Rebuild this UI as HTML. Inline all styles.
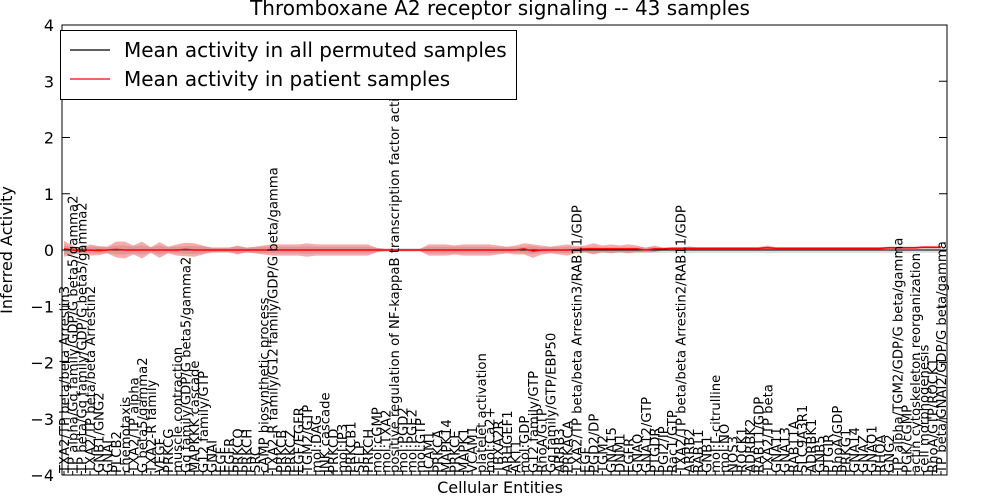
<!DOCTYPE html>
<html><head><meta charset="utf-8"><style>
body{margin:0;background:#fff;}
svg{display:block;font-family:"DejaVu Sans","Liberation Sans",sans-serif;}
</style></head><body>
<svg id="chart" width="1000" height="500" viewBox="0 0 1000 500" xmlns="http://www.w3.org/2000/svg">
<rect width="1000" height="500" fill="#fff"/>
<text x="500" y="15" text-anchor="middle" font-size="20">Thromboxane A2 receptor signaling -- 43 samples</text>
<text transform="translate(12,250) rotate(-90)" text-anchor="middle" font-size="16">Inferred Activity</text>
<text x="500" y="493" text-anchor="middle" font-size="16">Cellular Entities</text>
<g id="bands"></g><g id="lines"></g><g id="xlabels"></g><g id="yaxis"></g>
<rect x="62" y="25" width="885" height="450" fill="none" stroke="#000" stroke-width="1"/>
<g>
<rect x="60.5" y="30.5" width="456" height="69" fill="#fff" stroke="#000"/>
<line x1="70" y1="50" x2="110" y2="50" stroke="#000" stroke-width="1.2"/>
<text x="124" y="57" font-size="20">Mean activity in all permuted samples</text>
<line x1="70" y1="79" x2="110" y2="79" stroke="#f00" stroke-width="1.2"/>
<text x="124" y="86" font-size="20">Mean activity in patient samples</text>
</g>
</svg>
<script>
const categories = ["TXA2/TP beta/beta Arrestin3","TP alpha/Gq family/GDP/G beta5/gamma2","TP beta/Gq family/GDP/G beta5/gamma2","TXA2/TP beta/beta Arrestin2","GNB1/GNG2","GNAI","PLCB2","chemotaxis","TXA2/TP alpha","G beta5/gamma2","TXA2-R family","VEGF","PRKCG","muscle contraction","Gq family/GDP/G beta5/gamma2","MAPKKK cascade","G12 family/GTP","GNAI","EGF","EGFR","PRKCQ","PRKCH","SRC","cAMP biosynthetic process","TXA2-R family/G12 family/GDP/G beta/gamma","PRKCB","PRKCZ","EGF/EGFR","TGM2/GTP","mol:DAG","JNK cascade","PRKCD","mol:IP3","PRKCB1","SELP","PRKCH","mol:cGMP","mol:TXA2","positive regulation of NF-kappaB transcription factor activity","mol:PGD2","mol:PGE2","mol:GTP","ICAM1","PRKCA","MAPK14","PRKCE","MAPK1","VCAM1","platelet activation","mol:Ca2+","TBXA2R","ARHGEF1","AKT1","mol:GDP","G12 family/GTP","RhoA/GTP","Gq family/GTP/EBP50","ARRB3","PRKACA","TXA2/TP beta/beta Arrestin3/RAB11/GDP","EGF","PGD2/DP","TGM2","GNA15","DNM1","EGFR","GNAQ","GNA12/GTP","PTGDR","PGI2/IP","Rac1/GTP","TXA2/TP beta/beta Arrestin2/RAB11/GDP","ARRB2","RAB11","GNB1","mol:L-citrulline","mol:NO","NOS3","ROCK1","ADRBK2","RAB11/GDP","TXA2/TP beta","GNA11","GNA13","RAB11A","SLC9A3R1","ADRBK1","GNB5","PTGIR","RhoA/GDP","PRKG1","GNA14","GNAZ","GNAO1","RHOA","GNG2","TP alpha/TGM2/GDP/G beta/gamma","PGK/cGMP","actin cytoskeleton reorganization","cell morphogenesis","RhoA/GTP/ROCK1","TP beta/GNAI2/GDP/G beta/gamma"];
const patientMean = [0.02,0.0,-0.02,0.0,-0.01,0.0,0.01,0.0,0.0,0.0,0.0,0.0,0.0,0.0,0.01,0.0,0.0,0.0,0.0,0.0,0.0,0.0,0.0,0.0,0.0,0.0,0.0,0.0,0.0,0.0,0.0,0.0,0.0,0.0,0.0,0.0,0.0,0.0,0.0,0.0,0.0,0.0,0.0,0.0,0.0,0.0,0.0,0.0,0.0,0.0,0.0,0.0,0.0,0.02,-0.02,0.0,0.0,0.0,0.0,0.01,0.02,0.02,0.02,0.02,0.02,0.02,0.02,0.0,0.02,0.02,0.03,0.03,0.03,0.03,0.03,0.03,0.03,0.03,0.03,0.03,0.03,0.04,0.03,0.03,0.03,0.03,0.03,0.03,0.03,0.03,0.03,0.03,0.03,0.03,0.03,0.04,0.04,0.04,0.04,0.05,0.05,0.05];
const patientSpread = [0.14,0.08,0.04,0.1,0.08,0.06,0.14,0.15,0.08,0.15,0.05,0.14,0.06,0.1,0.12,0.12,0.08,0.04,0.04,0.04,0.08,0.04,0.06,0.08,0.1,0.1,0.1,0.1,0.12,0.1,0.1,0.1,0.1,0.1,0.1,0.1,0.04,0.02,0.02,0.02,0.02,0.02,0.1,0.1,0.1,0.08,0.1,0.1,0.1,0.1,0.08,0.06,0.08,0.1,0.12,0.08,0.06,0.08,0.1,0.06,0.06,0.1,0.06,0.08,0.06,0.08,0.06,0.04,0.06,0.02,0.02,0.02,0.03,0.02,0.02,0.02,0.02,0.02,0.02,0.02,0.02,0.04,0.02,0.02,0.02,0.02,0.02,0.02,0.02,0.02,0.02,0.02,0.02,0.02,0.02,0.02,0.02,0.02,0.02,0.02,0.02,0.02];
const permMean = [0,0,0,0,0,0,0,0,0,0,0,0,0,0,0,0,0,0,0,0,0,0,0,0,0,0,0,0,0,0,0,0,0,0,0,0,0,0,0,0,0,0,0,0,0,0,0,0,0,0,0,0,0,0,0,0,0,0,0,0,0,0,0,0,0,0,0,0,0,0,0,0,0,0,0,0,0,0,0,0,0,0,0,0,0,0,0,0,0,0,0,0,0,0,0,0,0,0,0,0,0,0];
const permSpread = [0.08,0.06,0.05,0.06,0.06,0.05,0.08,0.08,0.06,0.08,0.05,0.08,0.05,0.06,0.07,0.07,0.06,0.05,0.05,0.05,0.06,0.05,0.05,0.06,0.06,0.06,0.06,0.06,0.07,0.06,0.06,0.06,0.06,0.06,0.06,0.06,0.04,0.03,0.03,0.03,0.03,0.03,0.06,0.06,0.06,0.06,0.06,0.06,0.06,0.06,0.05,0.05,0.05,0.06,0.07,0.05,0.05,0.05,0.06,0.05,0.05,0.06,0.05,0.05,0.05,0.05,0.05,0.05,0.05,0.05,0.05,0.05,0.06,0.05,0.05,0.05,0.05,0.05,0.05,0.05,0.05,0.06,0.05,0.05,0.05,0.05,0.05,0.05,0.05,0.05,0.05,0.05,0.05,0.05,0.05,0.05,0.05,0.05,0.05,0.05,0.05,0.05];
const yTicks = [-4,-3,-2,-1,0,1,2,3,4];

const L=62,R=947,T=25,B=475;
const xs=i=>L+2+i*(R-L-8)/(categories.length-1);
const ys=v=>T+(4-v)*(B-T)/8;
const NS="http://www.w3.org/2000/svg";
function mk(tag,attrs,parent){const e=document.createElementNS(NS,tag);for(const k in attrs)e.setAttribute(k,attrs[k]);parent.appendChild(e);return e;}
const bands=document.getElementById('bands'),lines=document.getElementById('lines'),xl=document.getElementById('xlabels'),ya=document.getElementById('yaxis');
function band(mean,spread,fill,op,name){
  let top=mean.map((m,i)=>xs(i)+','+ys(m+spread[i]));
  let bot=mean.map((m,i)=>xs(i)+','+ys(m-spread[i])).reverse();
  const p=mk('polygon',{points:top.concat(bot).join(' '),fill:fill,'fill-opacity':op},bands);
  
  
}
band(permMean,permSpread,'#bbbbbb',0.5,'permuted-band');
band(patientMean,patientSpread,'#e83030',0.4,'patient-band');
const z=mk('line',{x1:L,x2:R,y1:ys(0),y2:ys(0),stroke:'#000','stroke-dasharray':'1.5,2.5','stroke-width':1},lines);


const pm=mk('polyline',{points:permMean.map((m,i)=>xs(i)+','+ys(m)).join(' '),fill:'none',stroke:'#000','stroke-width':1},lines);


const pt=mk('polyline',{points:patientMean.map((m,i)=>xs(i)+','+ys(m)).join(' '),fill:'none',stroke:'#f00','stroke-width':1.5},lines);


categories.forEach((c,i)=>{
  const x=xs(i)+5;
  const t=mk('text',{transform:`translate(${x},${B-2}) rotate(-90)`,'font-size':13.2},xl);
  t.textContent=c;
  
  
  const tk=mk('line',{x1:xs(i),x2:xs(i),y1:B,y2:B-4,stroke:'#000'},xl);
  
  
});
yTicks.forEach(v=>{
  const y=ys(v);
  const t=mk('text',{x:L-8,y:y+6,'text-anchor':'end','font-size':16},ya);
  t.textContent=String(v).replace('-','\u2212');
  
  
  const a=mk('line',{x1:L,x2:L+8,y1:y,y2:y,stroke:'#000'},ya);
  
  
  const b=mk('line',{x1:R-8,x2:R,y1:y,y2:y,stroke:'#000'},ya);
  
  
});
</script>
</body></html>
